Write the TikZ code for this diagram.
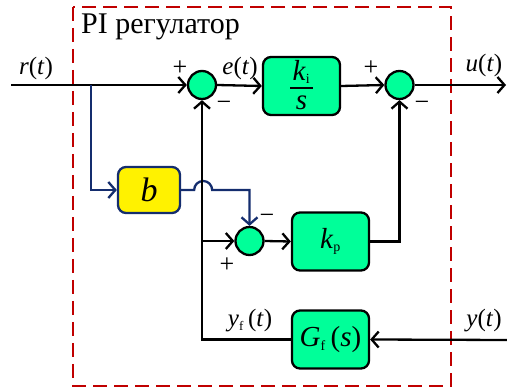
\documentclass[tikz,border=0pt]{standalone}
\usepackage{fontspec}
\setmainfont{Liberation Serif}
\usetikzlibrary{arrows.meta}
\definecolor{gr}{RGB}{0,255,153}
\definecolor{nv}{RGB}{20,45,110}
\definecolor{rd}{RGB}{192,0,0}
\begin{document}
\begin{tikzpicture}[x=1pt,y=-1pt,
  tip/.tip={Straight Barb[length=7pt,width=16pt]},
  sig/.style={line width=2.3pt,-tip},
  bsig/.style={line width=2.3pt,draw=nv,-tip},
  sumc/.style={circle,draw,line width=2.3pt,fill=gr,minimum size=28pt,inner sep=0pt},
  blk/.style={draw,line width=2.3pt,fill=gr,rounded corners=8pt,minimum width=77pt,minimum height=58pt,inner sep=0pt},
  bblk/.style={draw=nv,line width=2.3pt,fill=yellow,rounded corners=8pt,minimum width=62pt,minimum height=46pt,inner sep=0pt},
  lbl/.style={font=\fontsize{25}{27}\selectfont,inner sep=0pt},
  sgn/.style={font=\fontsize{26}{28}\selectfont,inner sep=0pt},
  inb/.style={font=\fontsize{29}{31}\selectfont,inner sep=0pt},
  frame/.style={draw=rd,line width=2.6pt,dash pattern=on 14pt off 7pt}]
\useasboundingbox (0,0) rectangle (507,390);
% frame
\draw[frame] (73,7) rectangle (451,386);
\node[anchor=west,font=\fontsize{30}{32}\selectfont,inner sep=0pt] (title) at (81,27) {PI регулатор};
% nodes
\node[sumc] (s1) at (202,85) {};
\node[blk] (ki) at (301.5,86) {};
\node[inb] (kin) at (301.5,72) {\textit{k}\textsubscript{\fontsize{14}{14}\selectfont i}};
\draw[line width=1.2pt] (290,88) -- (313,88);
\node[inb] (kis) at (301.5,103) {\textit{s}};
\node[sumc] (s2) at (399.5,85) {};
\node[bblk] (b) at (149,190) {\fontsize{34}{36}\selectfont\textit{b}};
\node[sumc] (s3) at (249.5,241) {};
\node[blk] (kp) at (330.5,241.5) {\fontsize{29}{31}\selectfont\textit{k}\textsubscript{\fontsize{14}{14}\selectfont p}};
\node[blk] (gf) at (330.5,339.5) {\fontsize{29}{31}\selectfont\textit{G}\textsubscript{\fontsize{14}{14}\selectfont f}\,(\textit{s})};
% coordinates
\coordinate (rin) at (11,85);
\coordinate (br) at (91,85);
\coordinate (uout) at (506,85);
\coordinate (yin) at (507,340);
% connectors
\draw[sig] (rin) -- (s1.west);
\draw[sig] (s1.east) -- (ki.west);
\draw[sig] (ki.east) -- (s2.west);
\draw[sig] (s2.east) -- (uout);
\draw[bsig] (br) |- (b.west);
\draw[bsig] (b.east) -- ++(13,0) arc[start angle=180,end angle=360,radius=9] -- (s3.north |- b.east) -- (s3.north);
\draw[sig] (yin) -- (gf.east);
\draw[sig] (gf.west) -| (s1.south);
\draw[sig] (s3.west -| s1.south) -- (s3.west);
\draw[sig] (s3.east) -- (kp.west);
\draw[sig] (kp.east) -| (s2.south);
% labels
\node[lbl] (lr) at (36,68) {\textit{r}(\textit{t})};
\node[lbl] (le) at (240,68) {\textit{e}(\textit{t})};
\node[lbl] (lu) at (484,65) {\textit{u}(\textit{t})};
\node[lbl] (ly) at (484,321) {\textit{y}(\textit{t})};
\node[lbl] (lyf) at (250,321) {\textit{y}\textsubscript{\fontsize{13}{13}\selectfont f}\,(\textit{t})};
\node[sgn] (p1) at (180,68) {+};
\node[sgn] (m1) at (224,106) {−};
\node[sgn] (p2) at (371,68) {+};
\node[sgn] (m2) at (422,106) {−};
\node[sgn] (m3) at (267,219) {−};
\node[sgn] (p3) at (227,265) {+};
\end{tikzpicture}
\end{document}
